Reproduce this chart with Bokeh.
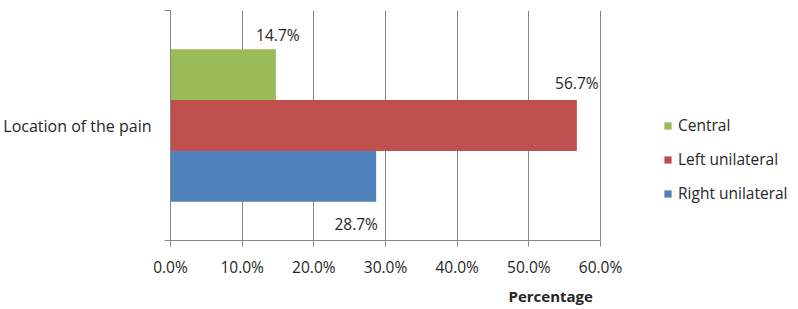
from bokeh.plotting import figure
from bokeh.models import Range1d, FixedTicker, Legend, LegendItem, Title, ColumnDataSource
from bokeh.core.properties import value
from bokeh.embed import file_html
from bokeh.resources import INLINE

categories = ["Location of the pain"]
series = ["Central", "Left unilateral", "Right unilateral"]
values = [14.7, 56.7, 28.7]
colors = ["#9BBB59", "#C0504D", "#4F81BD"]
value_labels = ["14.7%", "56.7%", "28.7%"]
x_ticks = [0, 10, 20, 30, 40, 50, 60]
tick_labels = ["0.0%", "10.0%", "20.0%", "30.0%", "40.0%", "50.0%", "60.0%"]
x_title = "Percentage"

FONT = "Open Sans"
FS = "15.5px"
TEXT = "#262626"
GRAY = "#868686"

p = figure(width=790, height=308, x_range=Range1d(0, 86.51), y_range=Range1d(0, 1),
           output_backend="svg", toolbar_location=None,
           min_border_left=170, min_border_right=0, min_border_top=10, min_border_bottom=66)
p.outline_line_color = None
p.background_fill_color = "white"

# x axis
p.xaxis.ticker = FixedTicker(ticks=x_ticks)
p.xaxis.major_label_overrides = {t: l for t, l in zip(x_ticks, tick_labels)}
p.xaxis.bounds = (0, 60)
p.xaxis.axis_line_color = GRAY
p.xaxis.major_tick_line_color = GRAY
p.xaxis.major_tick_out = 6
p.xaxis.major_tick_in = 0
p.xaxis.minor_tick_line_color = None
p.xaxis.major_label_standoff = 9
p.xaxis.major_label_text_font = FONT
p.xaxis.major_label_text_font_size = FS
p.xaxis.major_label_text_color = TEXT

# y axis
cat_pos = [i + 0.5 for i in range(len(categories))]
p.yaxis.ticker = FixedTicker(ticks=cat_pos, minor_ticks=[0.0, 1.0])
p.yaxis.major_label_overrides = {c: n for c, n in zip(cat_pos, categories)}
p.yaxis.axis_line_color = GRAY
p.yaxis.major_tick_line_color = None
p.yaxis.major_tick_out = 0
p.yaxis.major_tick_in = 0
p.yaxis.minor_tick_line_color = GRAY
p.yaxis.minor_tick_out = 6
p.yaxis.minor_tick_in = 0
p.yaxis.major_label_standoff = 13
p.yaxis.major_label_text_font = FONT
p.yaxis.major_label_text_font_size = "16px"
p.yaxis.major_label_text_color = TEXT

p.ygrid.visible = False
p.xgrid.ticker = FixedTicker(ticks=x_ticks)
p.xgrid.grid_line_color = GRAY
p.xgrid.grid_line_width = 1

bar_h = 0.2213
offsets = [bar_h, 0.0, -bar_h]
label_dx = [2, 0, -20]
label_dy = [-39.5, -43, 47.5]

items = []
for s, v, c, off, lab, dx, dy in zip(series, values, colors, offsets, value_labels, label_dx, label_dy):
    src = ColumnDataSource(dict(y=[cp + off for cp in cat_pos], right=[v], text=[lab]))
    r = p.hbar(y="y", left=0, right="right", height=bar_h, source=src,
               fill_color=c, line_color=None)
    p.text(x="right", y="y", text="text", source=src, x_offset=dx, y_offset=dy,
           text_align="center", text_baseline="middle",
           text_font=value(FONT), text_font_size=FS, text_color=TEXT)
    items.append(LegendItem(label=s, renderers=[r]))

legend = Legend(items=items, location=(493, 36), orientation="vertical",
                glyph_width=9, glyph_height=9, label_standoff=6,
                label_height=20, spacing=12, padding=0, margin=0,
                border_line_color=None, background_fill_alpha=0,
                label_text_font=FONT, label_text_font_size=FS,
                label_text_color=TEXT)
p.add_layout(legend)

t = Title(text=x_title, align="left", offset=338, text_font=FONT,
          text_font_size="15px", text_font_style="bold", text_color=TEXT,
          standoff=6)
p.add_layout(t, "below")

open("out.html", "w").write(file_html(p, INLINE))
